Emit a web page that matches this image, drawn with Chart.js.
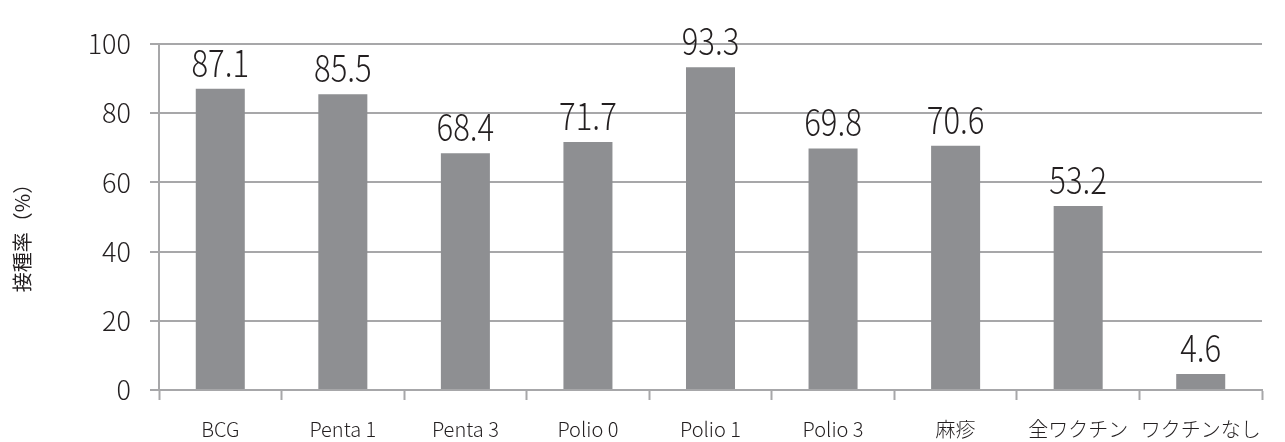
<!DOCTYPE html>
<html lang="ja">
<head>
<meta charset="utf-8">
<script src="https://cdn.jsdelivr.net/npm/chart.js@4.4.1/dist/chart.umd.min.js"></script>
<style>
  html, body { margin: 0; padding: 0; background: #ffffff; }
  #wrap { width: 1285px; height: 442px; }
</style>
</head>
<body>
<div id="wrap"><canvas id="c" width="1285" height="442"></canvas></div>
<script>
// Vaccination coverage by vaccine (%)
const categories = ['BCG', 'Penta 1', 'Penta 3', 'Polio 0', 'Polio 1', 'Polio 3', '麻疹', '全ワクチン', 'ワクチンなし'];
const coverage = [87.1, 85.5, 68.4, 71.7, 93.3, 69.8, 70.6, 53.2, 4.6];
const yTicks = [0, 20, 40, 60, 80, 100];
const yTitle = '接種率（%）';

const FONT = '"Noto Sans CJK JP", "Noto Sans", sans-serif';
const WEIGHT = 300;
const AXIS_GREY = '#a7a7a9';
const BAR_GREY = '#8e8f92';
const TEXT = '#231f20';

// Writes each bar's value above it, in a slightly narrowed face
const valueLabels = {
  id: 'valueLabels',
  afterDatasetsDraw(chart) {
    const ctx = chart.ctx;
    const meta = chart.getDatasetMeta(0);
    const squeeze = 0.84;
    ctx.save();
    ctx.font = WEIGHT + ' 37px ' + FONT;
    ctx.fillStyle = TEXT;
    ctx.textAlign = 'center';
    ctx.textBaseline = 'alphabetic';
    meta.data.forEach((bar, i) => {
      ctx.save();
      ctx.translate(bar.x, bar.y - 12);
      ctx.scale(squeeze, 1);
      ctx.fillText(String(coverage[i]), 0, 0);
      ctx.restore();
    });
    ctx.restore();
  }
};

// Vertical axis caption, set a little below the middle of the plot
const axisCaption = {
  id: 'axisCaption',
  afterDraw(chart) {
    const ctx = chart.ctx;
    const area = chart.chartArea;
    ctx.save();
    ctx.font = '400 20px ' + FONT;
    ctx.fillStyle = TEXT;
    ctx.textAlign = 'center';
    ctx.textBaseline = 'middle';
    ctx.translate(22, (area.top + area.bottom) / 2 + 16);
    ctx.rotate(-Math.PI / 2);
    ctx.fillText(yTitle, 0, 0);
    ctx.restore();
  }
};

new Chart(document.getElementById('c'), {
  type: 'bar',
  data: {
    labels: categories,
    datasets: [{
      data: coverage,
      backgroundColor: BAR_GREY,
      borderWidth: 0,
      barPercentage: 0.4,
      categoryPercentage: 1.0
    }]
  },
  options: {
    responsive: false,
    animation: false,
    devicePixelRatio: 1,
    layout: { padding: { left: 0, right: 23, top: 44, bottom: 0 } },
    plugins: {
      legend: { display: false },
      tooltip: { enabled: false }
    },
    scales: {
      x: {
        offset: true,
        grid: {
          display: true,
          offset: true,
          drawOnChartArea: false,
          drawTicks: true,
          tickLength: 10,
          tickWidth: 2,
          tickColor: AXIS_GREY
        },
        border: { display: true, color: AXIS_GREY, width: 2 },
        ticks: {
          color: TEXT,
          font: { family: FONT, size: 20, weight: WEIGHT },
          padding: 17,
          maxRotation: 0,
          autoSkip: false
        },
        afterFit(scale) { scale.height = 52; }
      },
      y: {
        min: 0,
        max: 100,
        afterBuildTicks(scale) { scale.ticks = yTicks.map(v => ({ value: v })); },
        grid: {
          color: AXIS_GREY,
          lineWidth: 2,
          drawTicks: true,
          tickLength: 9,
          tickColor: AXIS_GREY
        },
        border: { display: true, color: AXIS_GREY, width: 2 },
        ticks: {
          color: TEXT,
          font: { family: FONT, size: 27, weight: WEIGHT },
          padding: 19
        },
        afterFit(scale) { scale.width = 159; }
      }
    }
  },
  plugins: [valueLabels, axisCaption]
});
</script>
</body>
</html>
